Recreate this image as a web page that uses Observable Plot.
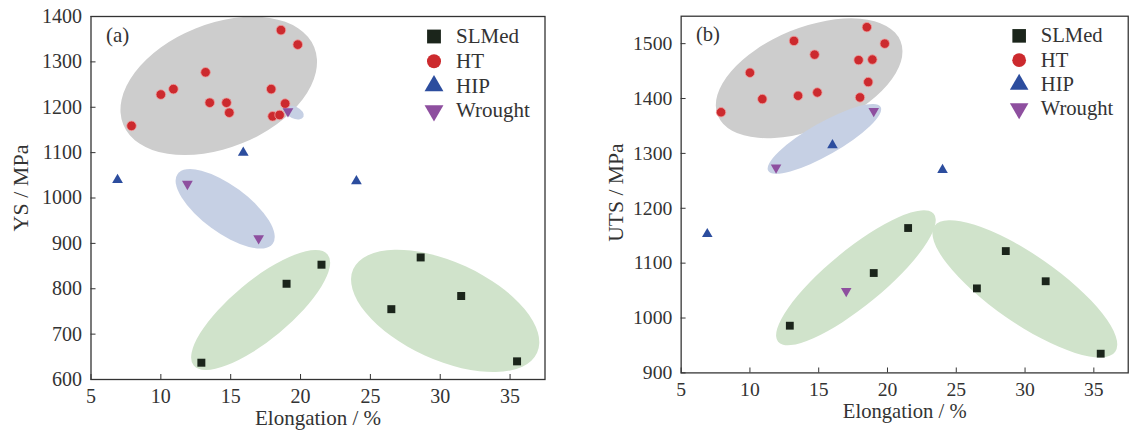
<!DOCTYPE html>
<html><head><meta charset="utf-8">
<script src="https://cdn.jsdelivr.net/npm/d3@7"></script>
<script src="https://cdn.jsdelivr.net/npm/@observablehq/plot@0.6"></script>
<style>
html,body{margin:0;padding:0;background:#fff;overflow:hidden;}
#wrap{position:relative;width:1130px;height:430px;overflow:hidden;background:#fff;}
#pa{position:absolute;left:0;top:0;}
#pb{position:absolute;left:565px;top:0;}
svg text{font-family:'Liberation Serif','DejaVu Serif',serif;}
</style></head><body><div id="wrap"><div id="pa"></div><div id="pb"></div></div>
<script>
// ---- categories & tick labels ----
const categories = ["SLMed", "HT", "HIP", "Wrought"];
const xTicks = [5, 10, 15, 20, 25, 30, 35];
const yTicksA = [600, 700, 800, 900, 1000, 1100, 1200, 1300, 1400];
const yTicksB = [900, 1000, 1100, 1200, 1300, 1400, 1500];

// ---- panel (a): YS vs elongation ----
const aSLMedX = [12.9, 19.0, 21.5, 26.5, 28.6, 31.5, 35.5];
const aSLMedY = [637, 811, 853, 755, 869, 784, 640];
const aHTX = [18.6, 19.8, 13.2, 10.9, 10.0, 17.9, 13.5, 14.7, 14.9, 18.9, 18.0, 18.5, 7.9];
const aHTY = [1370, 1338, 1277, 1240, 1228, 1240, 1210, 1210, 1188, 1208, 1180, 1183, 1159];
const aHIPX = [6.9, 15.9, 24.0];
const aHIPY = [1040, 1100, 1037];
const aWroughtX = [11.9, 17.0, 19.1];
const aWroughtY = [1031, 911, 1191];

// ---- panel (b): UTS vs elongation ----
const bSLMedX = [12.9, 19.0, 21.5, 26.5, 28.6, 31.5, 35.5];
const bSLMedY = [986, 1082, 1164, 1054, 1122, 1067, 935];
const bHTX = [18.5, 19.8, 13.2, 14.7, 17.9, 18.9, 10.0, 18.6, 10.9, 13.5, 14.9, 18.0, 7.9];
const bHTY = [1530, 1500, 1505, 1480, 1470, 1471, 1447, 1430, 1399, 1405, 1411, 1402, 1375];
const bHIPX = [6.9, 16.0, 24.0];
const bHIPY = [1153, 1315, 1270];
const bWroughtX = [11.9, 17.0, 19.0];
const bWroughtY = [1274, 1049, 1377];

// ---- grouping ellipses (centres in data units) ----
const ellipsesA = [
  {cx: 14.18, cy: 1246, rx: 103, ry: 62, angle: 22, fill: "#cdcdcd"},
  {cx: 19.6, cy: 1187, rx: 10, ry: 6, angle: -25, fill: "#c6d0e4"},
  {cx: 14.64, cy: 975, rx: 59, ry: 23.6, angle: -36.3, fill: "#c6d0e4"},
  {cx: 17.18, cy: 752, rx: 87, ry: 29.4, angle: 39.7, fill: "#d0e3cb"},
  {cx: 30.39, cy: 750, rx: 101, ry: 49, angle: -24.5, fill: "#d0e3cb"}
];
const ellipsesB = [
  {cx: 14.34, cy: 1436, rx: 100.4, ry: 51.6, angle: 22.2, fill: "#cdcdcd"},
  {cx: 15.45, cy: 1325.5, rx: 65.8, ry: 16.5, angle: 29.6, fill: "#c6d0e4"},
  {cx: 17.74, cy: 1072.5, rx: 102.5, ry: 28.4, angle: 39.4, fill: "#d0e3cb"},
  {cx: 30.02, cy: 1052.3, rx: 112, ry: 34.5, angle: -34.8, fill: "#d0e3cb"}
];

const styleOf = {
  SLMed: {symbol: "square", fill: "#1b251b", stroke: "none", rotate: 0, r: 4.5, lr: 7.8},
  HT: {symbol: "circle", fill: "#cc2a2e", stroke: "#f0a0a0", rotate: 0, r: 4.8, lr: 7},
  HIP: {symbol: "triangle", fill: "#2c4d9e", stroke: "none", rotate: 0, r: 4, lr: 7},
  Wrought: {symbol: "triangle", fill: "#8e4f9f", stroke: "none", rotate: 180, r: 4, lr: 7}
};

function zip(xs, ys) { return xs.map((x, i) => ({x, y: ys[i]})); }

function ellipseMark(specs) {
  return (index, scales) => {
    const g = d3.create("svg:g");
    for (const e of specs) {
      const cx = scales.x(e.cx), cy = scales.y(e.cy);
      g.append("ellipse").attr("cx", cx).attr("cy", cy)
        .attr("rx", e.rx).attr("ry", e.ry)
        .attr("transform", `rotate(${-e.angle},${cx},${cy})`)
        .attr("fill", e.fill);
    }
    return g.node();
  };
}

function panel(opts) {
  const {width, marginLeft, marginRight, yDomain, yTicks, series, ellipses, ylabel, tag, ylabelDx, ylabelDy} = opts;
  const height = 430, marginTop = 16, marginBottom = 51;
  const innerW = width - marginLeft - marginRight;
  const innerH = height - marginTop - marginBottom;
  const marks = [ellipseMark(ellipses)];
  for (const c of categories) {
    const s = styleOf[c];
    marks.push(Plot.dot(series[c], {x: "x", y: "y", symbol: s.symbol, r: s.r, fill: s.fill,
      stroke: s.stroke, strokeWidth: 0.8, rotate: s.rotate}));
  }
  marks.push(
    Plot.frame({stroke: "#333", strokeWidth: 1.3}),
    Plot.tickX(xTicks, {x: d => d, insetTop: innerH - 5, stroke: "#333", strokeWidth: 1}),
    Plot.tickY(yTicks, {y: d => d, insetRight: innerW - 5, stroke: "#333", strokeWidth: 1}),
    Plot.axisX(xTicks, {tickSize: 0, tickPadding: 9, tickFormat: d => String(d), label: null}),
    Plot.axisY(yTicks, {tickSize: 0, tickPadding: 9, tickFormat: d => String(d), label: null}),
    Plot.text(["Elongation / %"], {frameAnchor: "bottom", dy: 39, lineAnchor: "middle", textAnchor: "middle", fontSize: 21, fill: "#333"}),
    Plot.text([ylabel], {frameAnchor: "left", dx: ylabelDx, dy: ylabelDy, rotate: -90, textAnchor: "middle", lineAnchor: "middle", fontSize: 22, fill: "#333"}),
    Plot.text([tag], {frameAnchor: "top-left", dx: 15, dy: 19, textAnchor: "start", lineAnchor: "middle", fontSize: 21, fill: "#333"})
  );
  categories.forEach((c, i) => {
    const s = styleOf[c];
    const dy = 20 + 24.7 * i;
    marks.push(
      Plot.dot([c], {frameAnchor: "top-right", dx: -111, dy, symbol: s.symbol, r: s.lr, fill: s.fill, rotate: s.rotate}),
      Plot.text([c], {frameAnchor: "top-right", dx: -89, dy, textAnchor: "start", lineAnchor: "middle", fontSize: 21, fill: "#333"})
    );
  });
  return Plot.plot({
    width, height, marginLeft, marginRight, marginTop, marginBottom,
    x: {domain: [5, 37.5], label: null},
    y: {domain: yDomain, label: null},
    style: {fontFamily: "'Liberation Serif', 'DejaVu Serif', serif", fontSize: "20px", color: "#333", background: "transparent", overflow: "visible"},
    marks
  });
}

document.getElementById("pa").appendChild(panel({
  width: 565, marginLeft: 90.5, marginRight: 20.5,
  yDomain: [600, 1400], yTicks: yTicksA,
  series: {SLMed: zip(aSLMedX, aSLMedY), HT: zip(aHTX, aHTY), HIP: zip(aHIPX, aHIPY), Wrought: zip(aWroughtX, aWroughtY)},
  ellipses: ellipsesA, ylabel: "YS / MPa", tag: "(a)", ylabelDx: -70, ylabelDy: -10
}));
document.getElementById("pb").appendChild(panel({
  width: 575, marginLeft: 117.7, marginRight: 2.3,
  yDomain: [900, 1550], yTicks: yTicksB,
  series: {SLMed: zip(bSLMedX, bSLMedY), HT: zip(bHTX, bHTY), HIP: zip(bHIPX, bHIPY), Wrought: zip(bWroughtX, bWroughtY)},
  ellipses: ellipsesB, ylabel: "UTS / MPa", tag: "(b)", ylabelDx: -66, ylabelDy: -2
}));
</script>
</body></html>
